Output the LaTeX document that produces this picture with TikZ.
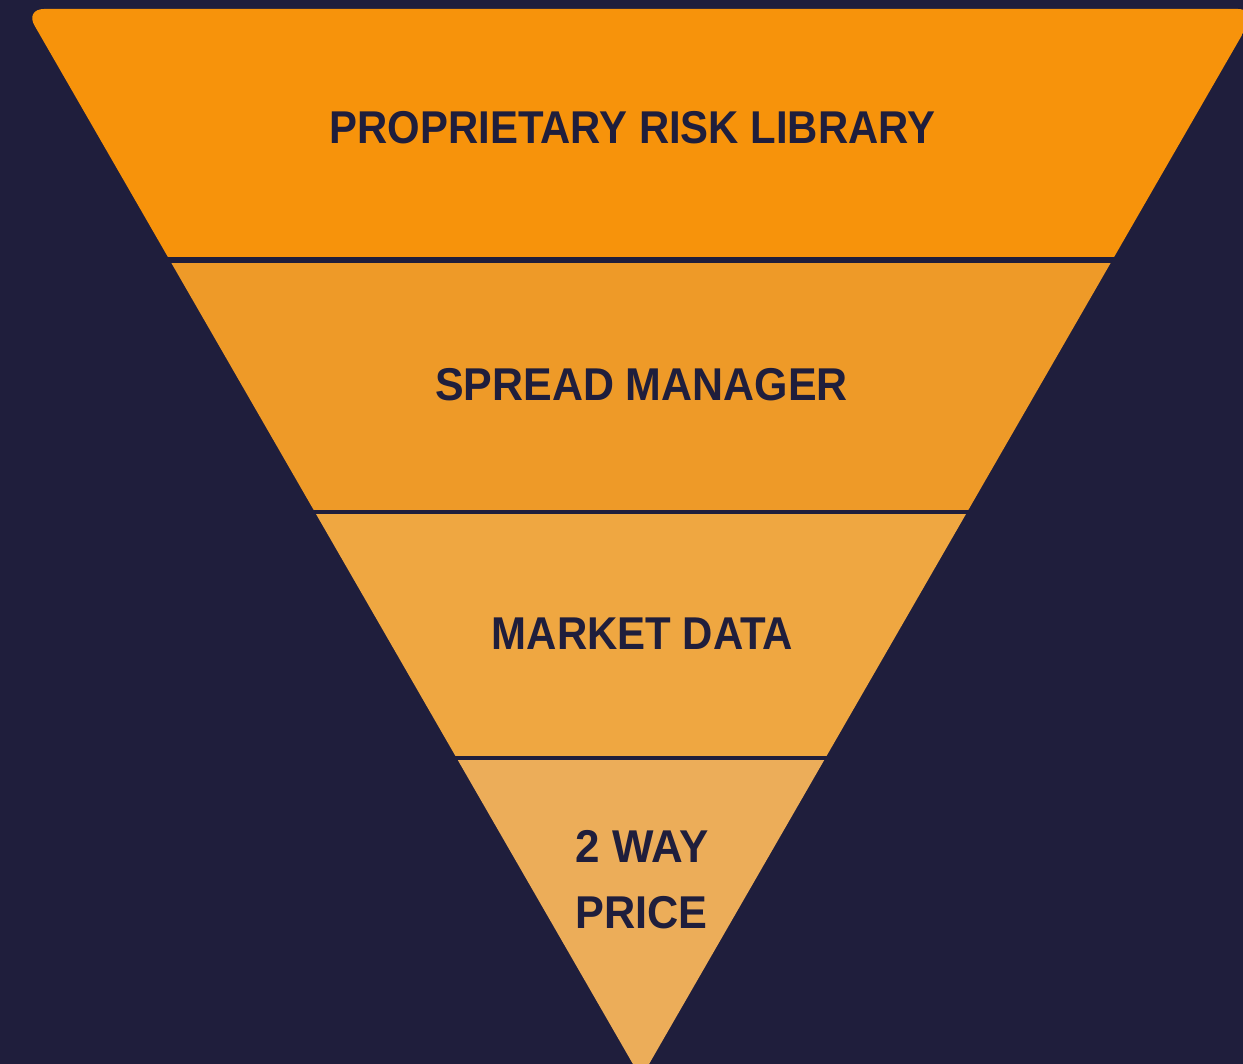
\documentclass[tikz,border=0pt]{standalone}
\usepackage{fontspec}
\setmainfont{Liberation Sans}
\usepackage{graphicx}
\definecolor{bg}{HTML}{1F1E3C}
\definecolor{ink}{HTML}{1F1E3C}
\definecolor{bandA}{HTML}{F7930B}
\definecolor{bandB}{HTML}{EE9A28}
\definecolor{bandC}{HTML}{EFA741}
\definecolor{bandD}{HTML}{ECAD59}
\newcommand{\lbltext}[2]{\scalebox{#1}[1]{#2}}
\begin{document}
\begin{tikzpicture}[x=1pt,y=-1pt,
  lbl/.style={inner sep=0pt, anchor=base, text=ink, font=\fontsize{46}{55}\selectfont\bfseries},
  sepline/.style={fill=bg}]
\useasboundingbox (0,0) rectangle (1243,1064);
\fill[bg] (0,0) rectangle (1243,1064);
\begin{scope}
  \clip (641,1078) [rounded corners=19pt] -- (25,9) -- (1257,9) [sharp corners] -- cycle;
  \fill[bandA] (-10,-10) rectangle (1300,260);
  \fill[bandB] (-10,260) rectangle (1300,512);
  \fill[bandC] (-10,512) rectangle (1300,758);
  \fill[bandD] (-10,758) rectangle (1300,1100);
\end{scope}
\fill[sepline] (0,257) rectangle (1243,263);
\fill[sepline] (0,510) rectangle (1243,514);
\fill[sepline] (0,756) rectangle (1243,760);
\node[lbl] (risk) at (632.5,144) {\lbltext{0.91}{PROPRIETARY RISK LIBRARY}};
\node[lbl] (spread) at (641.5,401) {\lbltext{0.933}{SPREAD MANAGER}};
\node[lbl] (market) at (642.5,649) {\lbltext{0.912}{MARKET DATA}};
\node[lbl] (way) at (642.3,862) {\lbltext{0.955}{2 WAY}};
\node[lbl] (price) at (641.7,928.5) {\lbltext{0.94}{PRICE}};
\end{tikzpicture}
\end{document}
